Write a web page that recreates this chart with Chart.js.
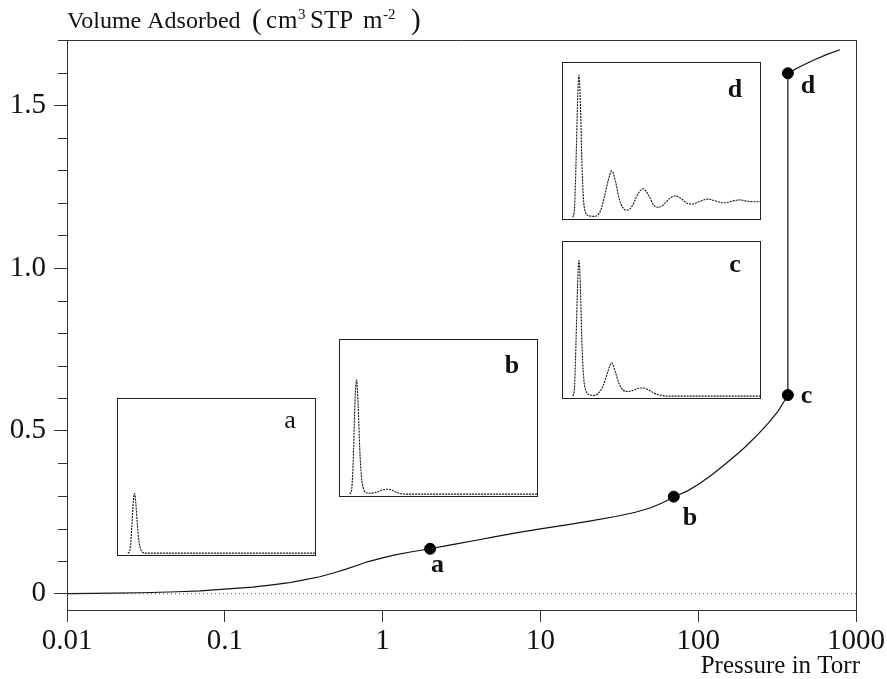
<!DOCTYPE html>
<html>
<head>
<meta charset="utf-8">
<script src="https://cdn.jsdelivr.net/npm/chart.js@4.4.1/dist/chart.umd.min.js"></script>
<style>
  body { margin: 0; background: #fff; }
  #wrap { position: relative; width: 887px; height: 679px; }
  #wrap canvas { position: absolute; }
</style>
</head>
<body>
<div id="wrap">
  <canvas id="mainChart" width="887" height="679" style="left:0;top:0"></canvas>
  <canvas id="insetA" width="199" height="158" style="left:117px;top:398px"></canvas>
  <canvas id="insetB" width="199" height="158" style="left:339px;top:339px"></canvas>
  <canvas id="insetC" width="199" height="158" style="left:562px;top:241px"></canvas>
  <canvas id="insetD" width="199" height="158" style="left:562px;top:62px"></canvas>
</div>
<script>
    // isotherm
    var isoPressure = [0.01, 0.015, 0.02, 0.03, 0.05, 0.07, 0.1, 0.15, 0.2, 0.25, 0.3, 0.4, 0.5, 0.6, 0.7, 0.8,
        1.0, 1.2, 1.5, 2.0, 2.5, 3.0, 4.0, 5.0, 7.0, 10, 15, 20, 30, 40, 50, 60, 70, 85, 100, 120, 150,
        180, 200, 240, 280, 320, 350, 370, 370, 450, 550, 650, 790];
    var isoVolume = [0.0, 0.001, 0.002, 0.003, 0.006, 0.009, 0.014, 0.020, 0.027, 0.033, 0.040, 0.052, 0.065, 0.077, 0.088, 0.098,
        0.110, 0.119, 0.128, 0.138, 0.147, 0.154, 0.165, 0.174, 0.187, 0.199, 0.212, 0.222, 0.237, 0.250, 0.264, 0.280, 0.297, 0.315, 0.335, 0.362, 0.400,
        0.432, 0.452, 0.490, 0.525, 0.560, 0.590, 0.610, 1.598, 1.620, 1.640, 1.655, 1.670];

    var pointNames = ['a', 'b', 'c', 'd'];
    var pointPressure = [2.0, 70, 370, 370];
    var pointVolume = [0.138, 0.298, 0.610, 1.598];

    var zeroPressure = [0.01, 1000];
    var zeroVolume = [0, 0];

    var xTickValues = [0.01, 0.1, 1, 10, 100, 1000];
    var xTickLabels = ['0.01', '0.1', '1', '10', '100', '1000'];
    var yTickValues = [0, 0.5, 1.0, 1.5];
    var yTickLabels = ['0', '0.5', '1.0', '1.5'];
    var yMinorValues = [0.1, 0.2, 0.3, 0.4, 0.6, 0.7, 0.8, 0.9, 1.1, 1.2, 1.3, 1.4, 1.6, 1.7];

    // density profiles in the insets (x: 0-100 across box, y: fraction of box height)
    var profileAX = [5, 5.8, 6.4, 7.0, 7.8, 8.4, 9.0, 9.8, 10.6, 11.5, 12.7, 14, 100];
    var profileAY = [0, 0.01, 0.05, 0.17, 0.34, 0.387, 0.33, 0.19, 0.08, 0.025, 0.004, 0, 0];
    var profileBX = [5, 6.0, 6.8, 7.6, 8.4, 9.2, 10.0, 10.9, 11.8, 13, 15, 17, 19, 21.5, 24.2, 26.5, 28.5, 31, 34, 100];
    var profileBY = [0, 0.04, 0.25, 0.6, 0.74, 0.58, 0.3, 0.11, 0.04, 0.012, 0.006, 0.008, 0.015, 0.027, 0.032, 0.025, 0.012, 0.003, 0, 0];
    var profileCX = [5, 5.8, 6.6, 7.4, 8.1, 8.8, 9.6, 10.5, 11.5, 13, 15.7, 18, 20.5, 22.8, 24.7, 26.5, 28.5, 30.5, 32.5, 35, 38, 40.5, 43.5, 46.5, 50, 54, 100];
    var profileCY = [0, 0.05, 0.35, 0.72, 0.88, 0.72, 0.35, 0.12, 0.04, 0.012, 0.005, 0.02, 0.07, 0.16, 0.216, 0.16, 0.08, 0.04, 0.03, 0.035, 0.05, 0.053, 0.04, 0.018, 0.005, 0, 0];
    var profileDX = [5, 5.8, 6.6, 7.4, 8.1, 8.8, 9.6, 10.5, 11.5, 13, 16, 19, 21, 23, 24.7, 26.5, 28.5, 30.5, 32.5, 35, 38, 40.7, 43.5, 46, 48.5,
        51, 54, 57, 60, 63, 65.5, 69, 73.4, 77, 80, 82, 86, 89.5, 93, 96, 100];
    var profileDY = [0, 0.05, 0.35, 0.75, 0.92, 0.75, 0.35, 0.1, 0.03, 0.01, 0.005, 0.04, 0.13, 0.24, 0.30, 0.24, 0.12, 0.06, 0.045, 0.07, 0.15, 0.184, 0.14, 0.08, 0.064,
        0.08, 0.12, 0.138, 0.12, 0.09, 0.085, 0.10, 0.117, 0.107, 0.095, 0.093, 0.104, 0.112, 0.105, 0.1, 0.1];

    var serif = "'Liberation Serif', 'DejaVu Serif', serif";

    function toXY(xs, ys) {
        return xs.map(function(x, i) { return { x: x, y: ys[i] }; });
    }

    // top/right frame, minor y ticks and all the loose text
    var mainDecor = {
        id: 'mainDecor',
        afterDraw: function(chart) {
            var ctx = chart.ctx, a = chart.chartArea, ys = chart.scales.y;
            ctx.save();
            ctx.strokeStyle = '#333';
            ctx.lineWidth = 1;
            ctx.beginPath();
            ctx.moveTo(a.left, a.top + 0.5);
            ctx.lineTo(a.right, a.top + 0.5);
            ctx.moveTo(a.right + 0.5, a.top);
            ctx.lineTo(a.right + 0.5, a.bottom);
            yMinorValues.forEach(function(v) {
                var y = Math.round(ys.getPixelForValue(v)) + 0.5;
                ctx.moveTo(a.left - 9, y);
                ctx.lineTo(a.left, y);
            });
            ctx.stroke();

            ctx.fillStyle = '#111';
            ctx.textBaseline = 'alphabetic';
            ctx.textAlign = 'left';
            ctx.font = '24px ' + serif;
            ctx.fillText('Volume Adsorbed', 67, 28);
            ctx.font = '29px ' + serif;
            ctx.fillText('(', 252, 29);
            ctx.fillText(')', 411, 29);
            ctx.font = '25px ' + serif;
            ctx.fillText('c', 266, 28);
            ctx.fillText('m', 278, 28);
            ctx.fillText('STP', 310, 28);
            ctx.fillText('m', 363, 28);
            ctx.font = '15px ' + serif;
            ctx.fillText('3', 298, 19);
            ctx.fillText('-2', 383, 19);

            ctx.font = '25px ' + serif;
            ctx.textAlign = 'right';
            ctx.fillText('Pressure in Torr', 860, 673);

            // point labels
            var offs = [[1, 23], [9, 28], [13, 8], [13, 20]];
            ctx.textAlign = 'left';
            ctx.font = 'bold 26px ' + serif;
            chart.getDatasetMeta(2).data.forEach(function(el, i) {
                ctx.fillText(pointNames[i], el.x + offs[i][0], el.y + offs[i][1]);
            });
            ctx.restore();
        }
    };

    var mainChart = new Chart(document.getElementById('mainChart'), {
        type: 'line',
        data: {
            datasets: [{
                data: toXY(zeroPressure, zeroVolume),
                borderColor: '#555',
                borderWidth: 1,
                borderDash: [1, 3],
                pointRadius: 0
            }, {
                data: toXY(isoPressure, isoVolume),
                borderColor: '#111',
                borderWidth: 1.2,
                pointRadius: 0,
                tension: 0
            }, {
                data: toXY(pointPressure, pointVolume),
                showLine: false,
                pointRadius: 5.5,
                pointBackgroundColor: '#000',
                pointBorderColor: '#000'
            }]
        },
        options: {
            responsive: false,
            animation: false,
            devicePixelRatio: 1,
            layout: { padding: { top: 40, right: 29, left: 0, bottom: 0 } },
            plugins: { legend: { display: false }, tooltip: { enabled: false } },
            scales: {
                x: {
                    type: 'logarithmic',
                    min: 0.01,
                    max: 1000,
                    afterBuildTicks: function(s) { s.ticks = xTickValues.map(function(v) { return { value: v }; }); },
                    afterFit: function(s) { s.height = 69; },
                    grid: { drawOnChartArea: false, tickLength: 12, color: '#333' },
                    border: { color: '#333', width: 1 },
                    ticks: {
                        font: { family: serif, size: 29 },
                        color: '#111',
                        padding: 2,
                        maxRotation: 0,
                        autoSkip: false,
                        callback: function(v, i) { return xTickLabels[i]; }
                    }
                },
                y: {
                    min: -0.05,
                    max: 1.7,
                    afterBuildTicks: function(s) { s.ticks = yTickValues.map(function(v) { return { value: v }; }); },
                    afterFit: function(s) { s.width = 67; },
                    grid: { drawOnChartArea: false, tickLength: 13, color: '#333' },
                    border: { color: '#333', width: 1 },
                    ticks: {
                        font: { family: serif, size: 29 },
                        color: '#111',
                        padding: 8,
                        callback: function(v, i) { return yTickLabels[i]; }
                    }
                }
            }
        },
        plugins: [mainDecor]
    });

    function makeInset(id, xs, ys, name, bold, baseline) {
        var insetDecor = {
            id: 'insetDecor',
            afterDraw: function(chart) {
                var ctx = chart.ctx;
                ctx.save();
                ctx.strokeStyle = '#222';
                ctx.lineWidth = 1;
                ctx.strokeRect(0.5, 0.5, chart.width - 1, chart.height - 1);
                ctx.fillStyle = '#111';
                ctx.font = (bold ? 'bold ' : '') + '26px ' + serif;
                ctx.textAlign = 'center';
                ctx.textBaseline = 'alphabetic';
                ctx.fillText(name, chart.width - 26, baseline);
                ctx.restore();
            }
        };
        return new Chart(document.getElementById(id), {
            type: 'line',
            data: {
                datasets: [{
                    data: toXY(xs, ys),
                    borderColor: '#111',
                    borderWidth: 1.1,
                    borderDash: [2, 1],
                    pointRadius: 0,
                    cubicInterpolationMode: 'monotone'
                }]
            },
            options: {
                responsive: false,
                animation: false,
                devicePixelRatio: 1,
                layout: { padding: 1 },
                plugins: { legend: { display: false }, tooltip: { enabled: false } },
                scales: {
                    x: { type: 'linear', min: 0, max: 100, display: false },
                    y: { min: -0.012, max: 1.0, display: false }
                }
            },
            plugins: [insetDecor]
        });
    }

    makeInset('insetA', profileAX, profileAY, 'a', false, 30);
    makeInset('insetB', profileBX, profileBY, 'b', true, 34);
    makeInset('insetC', profileCX, profileCY, 'c', true, 31);
    makeInset('insetD', profileDX, profileDY, 'd', true, 35);
</script>
</body>
</html>
